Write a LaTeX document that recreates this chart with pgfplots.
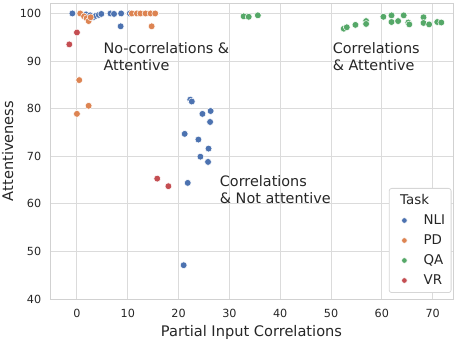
\documentclass[border=0pt]{standalone}
\usepackage{fontspec}
\setmainfont{DejaVu Sans}
\usepackage{pgfplots}
\pgfplotsset{compat=1.18}

\definecolor{cNLI}{HTML}{4C72B0}
\definecolor{cPD}{HTML}{DD8452}
\definecolor{cQA}{HTML}{55A868}
\definecolor{cVR}{HTML}{C44E52}
\definecolor{txt}{HTML}{262626}
\definecolor{edge}{HTML}{D6D6D6}

\begin{document}
\begin{tikzpicture}
\useasboundingbox (-50bp,-41bp) rectangle (410bp,299bp);
\begin{axis}[
    at={(0,0)}, anchor=south west,
    scale only axis,
    width=403bp, height=296bp,
    xmin=-5.3, xmax=74.0,
    ymin=40, ymax=102.2,
    xtick={0,10,...,70},
    ytick={40,50,...,100},
    /pgf/number format/assume math mode=true,
    tick style={draw=none},
    ticklabel style={font=\fontsize{11.2bp}{13bp}\selectfont, text=txt},
    xticklabel style={yshift=-6.3bp},
    yticklabel style={xshift=-5.3bp},
    grid=major,
    major grid style={black!14, line width=0.9bp},
    axis line style={black!18, line width=0.9bp},
    xlabel={Partial Input Correlations},
    ylabel={Attentiveness},
    label style={font=\fontsize{14.6bp}{17bp}\selectfont, text=txt, inner sep=0pt},
    xlabel style={at={(axis description cs:0.5,-0.0878)}, anchor=north},
    ylabel style={at={(axis description cs:-0.0906,0.5)}, anchor=south},
    legend style={at={(1,0)}, anchor=south east, xshift=-1.5bp, yshift=6bp,
        draw=edge, line width=0.8bp, rounded corners=2.5bp, fill=white,
        font=\fontsize{13.4bp}{15bp}\selectfont, text=txt,
        row sep=3.8bp, inner sep=4bp,
        nodes={text height=9.7bp, text depth=2.5bp, inner sep=2bp}},
    legend cell align=left,
    legend image code/.code={\path (0bp,0bp) (28bp,0bp);
        \draw[mark size=2.8bp] plot coordinates {(11bp,0bp)};},
    every axis plot/.append style={only marks, mark=*, mark size=3.4bp,
        draw=white, line width=0.5bp},
]
\addlegendimage{empty legend}
\addlegendentry{\hspace*{-23.5bp}Task}

\addplot[fill=cNLI] coordinates {
    (-0.9,100) (1.8,99.8) (2.6,99.6) (3.2,99.2) (3.7,99.5) (4.3,99.7)
    (4.8,99.9) (6.6,100) (7.3,99.9) (8.7,100) (10.4,100) (8.6,97.3)
    (22.3,81.9) (22.6,81.5) (24.7,78.9) (26.3,79.5) (26.2,77.2)
    (21.2,74.7) (23.9,73.5) (25.9,71.6) (24.3,69.9) (25.8,68.8)
    (21.8,64.4) (21.0,47.1)
};
\addlegendentry{NLI}

\addplot[fill=cPD] coordinates {
    (0.65,100) (1.4,99.4) (1.9,99.0) (2.3,98.4) (2.7,99.2)
    (10.8,100) (11.8,100) (12.5,100) (13.5,100) (14.5,100) (15.4,100)
    (14.7,97.3) (0.45,86.0) (2.3,80.6) (0.0,78.9)
};
\addlegendentry{PD}

\addplot[fill=cQA] coordinates {
    (32.8,99.4) (33.8,99.3) (35.6,99.6)
    (52.5,96.8) (53.1,97.1) (54.8,97.6) (56.9,98.4) (56.9,97.8)
    (60.3,99.3) (61.9,99.6) (61.9,98.2) (63.2,98.4) (64.3,99.6)
    (65.2,98.1) (65.4,97.7) (68.2,99.2) (68.2,98.0) (69.3,97.7)
    (70.9,98.2) (71.7,98.1)
};
\addlegendentry{QA}

\addplot[fill=cVR] coordinates {
    (0.0,96.0) (-1.5,93.5) (15.8,65.3) (18.0,63.7)
};
\addlegendentry{VR}

\begin{scope}[every node/.style={font=\fontsize{14.4bp}{17.3bp}\selectfont,
        text=txt, align=left, anchor=west, inner sep=0pt}]
\node at (axis cs:5.2,90.9) {No-correlations \&\\Attentive};
\node at (axis cs:50.3,90.9) {Correlations\\\& Attentive};
\node at (axis cs:28.1,63.0) {Correlations\\\& Not attentive};
\end{scope}
\end{axis}
\end{tikzpicture}
\end{document}
